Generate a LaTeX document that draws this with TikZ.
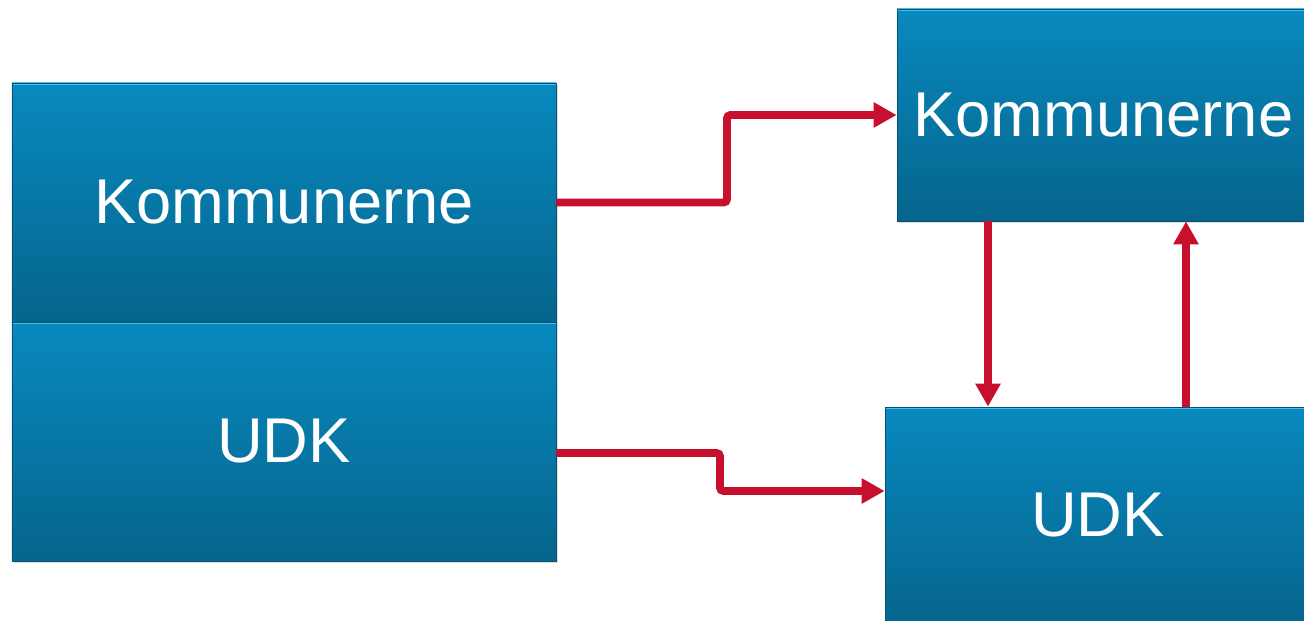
\documentclass[tikz,border=0pt]{standalone}
\usepackage{fontspec}
\setmainfont{Liberation Sans}
\usetikzlibrary{arrows.meta,shadows}
\definecolor{boxtop}{RGB}{8,137,191}
\definecolor{boxbottom}{RGB}{6,101,141}
\definecolor{boxrim}{RGB}{70,190,235}
\definecolor{linkred}{RGB}{200,16,46}
\begin{document}
\begin{tikzpicture}[thick,
    blue box/.style={rectangle,draw=boxbottom!80!black,line width=0.4pt,top color=boxtop,bottom color=boxbottom,
        text=white,font=\fontsize{36}{40}\selectfont,inner sep=0pt,
        drop shadow={opacity=0.25,shadow xshift=0.04cm,shadow yshift=-0.04cm},
        path picture={\draw[boxrim,line width=2.5pt] (path picture bounding box.north west) -- (path picture bounding box.north east);}},
    link/.style={draw=linkred,line width=4.5pt,rounded corners=2pt,-{Triangle[length=0.46cm,width=0.48cm]}}]
    \clip (0,0) rectangle (26.08,12.4);
    \node[blue box,minimum width=10.88cm,minimum height=4.78cm] at (5.68,8.35) (komleft) {Kommunerne};
    \node[blue box,minimum width=10.88cm,minimum height=4.78cm] at (5.68,3.57) (udkleft) {UDK};
    \node[blue box,minimum width=8.26cm,minimum height=4.24cm] at (22.07,10.1) (komright) {Kommunerne};
    \node[blue box,minimum width=8.52cm,minimum height=4.32cm] at (21.96,2.1) (udkright) {UDK};

    \path[link] (komleft.east) -- (14.54,8.35) |- (komright.west);
    \path[link] ([yshift=-0.23cm]udkleft.east) -- (14.4,3.34) |- ([yshift=0.48cm]udkright.west);
    \path[link] (komright.south -| 19.76,0) -- (udkright.north -| 19.76,0);
    \path[link] (udkright.north -| 23.72,0) -- (komright.south -| 23.72,0);
\end{tikzpicture}
\end{document}
